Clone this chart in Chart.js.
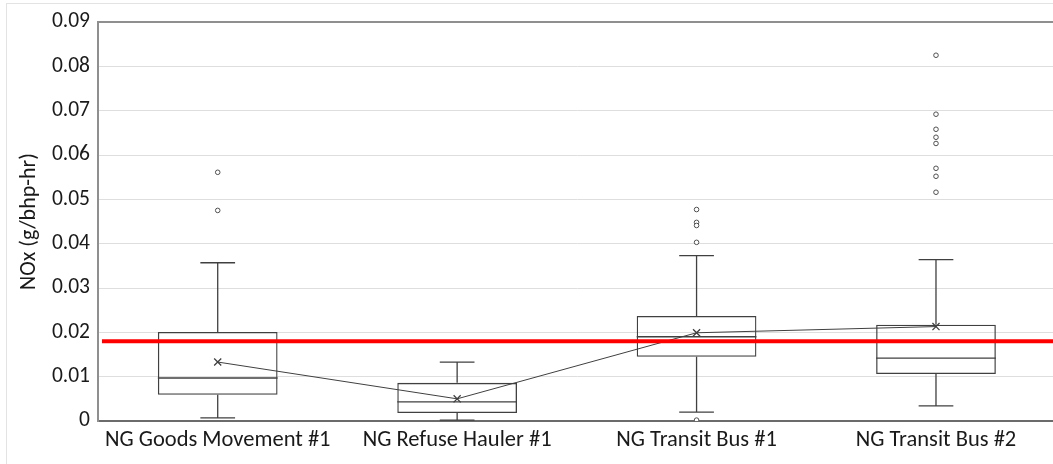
<!DOCTYPE html>
<html>
<head>
<meta charset="utf-8">
<script src="https://cdn.jsdelivr.net/npm/chart.js@4"></script>
<style>
html,body{margin:0;padding:0;background:#fff;overflow:hidden;}
#wrap{position:relative;width:1062px;height:464px;}
#frame{position:absolute;left:6px;top:3px;width:1100px;height:500px;border:1px solid #e3e3e3;box-sizing:border-box;pointer-events:none;}
</style>
</head>
<body>
<div id="wrap"><canvas id="c" width="1062" height="464"></canvas><div id="frame"></div></div>
<script>
const categories = ['NG Goods Movement #1','NG Refuse Hauler #1','NG Transit Bus #1','NG Transit Bus #2'];
const whiskerLow  = [0.0007, 0.0002, 0.0020, 0.0034];
const q1          = [0.0059, 0.0018, 0.0145, 0.0106];
const median      = [0.0097, 0.0043, 0.0190, 0.0142];
const q3          = [0.0201, 0.0086, 0.0237, 0.0217];
const whiskerHigh = [0.0357, 0.0133, 0.0373, 0.0364];
const mean        = [0.0133, 0.0050, 0.0199, 0.0213];
const outliers    = [
  [0.0561, 0.0475],
  [],
  [0.0477, 0.0448, 0.0441, 0.0403, 0.0002],
  [0.0825, 0.0692, 0.0658, 0.0640, 0.0626, 0.0570, 0.0552, 0.0516]
];
const threshold = 0.018;
const yTicks = [0, 0.01, 0.02, 0.03, 0.04, 0.05, 0.06, 0.07, 0.08, 0.09];

const FONT = 'Carlito, "Open Sans", sans-serif';
const INK = '#404040';

const outlierPoints = [];
outliers.forEach((arr, i) => arr.forEach(v => outlierPoints.push({x: categories[i], y: v})));

const boxPlugin = {
  id: 'boxParts',
  afterDatasetsDraw(chart) {
    const ctx = chart.ctx;
    const y = chart.scales.y;
    const meta = chart.getDatasetMeta(0);
    ctx.save();
    ctx.strokeStyle = INK;
    ctx.lineWidth = 1.3;
    meta.data.forEach((bar, i) => {
      const cx = bar.x;
      const half = bar.width / 2;
      const cap = bar.width * 0.145;
      const yQ1 = y.getPixelForValue(q1[i]);
      const yQ3 = y.getPixelForValue(q3[i]);
      const yLo = y.getPixelForValue(whiskerLow[i]);
      const yHi = y.getPixelForValue(whiskerHigh[i]);
      const yMed = y.getPixelForValue(median[i]);
      ctx.beginPath();
      ctx.moveTo(cx, yQ3); ctx.lineTo(cx, yHi);
      ctx.moveTo(cx - cap, yHi); ctx.lineTo(cx + cap, yHi);
      ctx.moveTo(cx, yQ1); ctx.lineTo(cx, yLo);
      ctx.moveTo(cx - cap, yLo); ctx.lineTo(cx + cap, yLo);
      ctx.moveTo(cx - half, yMed); ctx.lineTo(cx + half, yMed);
      ctx.stroke();
    });
    // threshold line
    const yt = y.getPixelForValue(threshold);
    ctx.strokeStyle = '#ff0000';
    ctx.lineWidth = 4;
    ctx.beginPath();
    ctx.moveTo(chart.chartArea.left + 4, yt);
    ctx.lineTo(chart.chartArea.right, yt);
    ctx.stroke();
    ctx.restore();
  }
};

new Chart(document.getElementById('c'), {
  type: 'bar',
  data: {
    labels: categories,
    datasets: [
      {
        type: 'bar',
        data: categories.map((_, i) => [q1[i], q3[i]]),
        backgroundColor: 'rgba(255,255,255,0)',
        borderColor: INK,
        borderWidth: 1.3,
        borderSkipped: false,
        categoryPercentage: 1,
        barPercentage: 0.5,
        order: 3
      },
      {
        type: 'line',
        data: mean,
        borderColor: INK,
        borderWidth: 1,
        pointStyle: 'crossRot',
        pointRadius: 5,
        pointBorderWidth: 1.3,
        pointBorderColor: INK,
        fill: false,
        tension: 0,
        order: 1
      },
      {
        type: 'line',
        data: outlierPoints,
        showLine: false,
        pointStyle: 'circle',
        pointRadius: 2.3,
        pointBorderWidth: 1,
        pointBorderColor: '#505050',
        pointBackgroundColor: '#ffffff',
        order: 2
      }
    ]
  },
  options: {
    responsive: false,
    animation: false,
    devicePixelRatio: 1,
    layout: { padding: { top: 22, left: 0, right: 0, bottom: 0 } },
    plugins: { legend: { display: false }, tooltip: { enabled: false } },
    scales: {
      x: {
        grid: { display: false, drawTicks: false },
        border: { display: true, color: '#6b6b6b', width: 2 },
        ticks: { color: '#1a1a1a', font: { family: FONT, size: 22.5 }, padding: 6, maxRotation: 0, autoSkip: false },
        afterFit(s) { s.height = 43; }
      },
      y: {
        min: 0, max: 0.09,
        afterBuildTicks(s) { s.ticks = yTicks.map(v => ({ value: v })); },
        grid: {
          drawTicks: false,
          color: ctx => (ctx.tick && Math.abs(ctx.tick.value - 0.09) < 1e-9) ? '#8f8f8f' : '#dedede',
          lineWidth: ctx => (ctx.tick && Math.abs(ctx.tick.value - 0.09) < 1e-9) ? 2 : 1
        },
        border: { display: true, color: '#8f8f8f', width: 2 },
        ticks: {
          color: '#1a1a1a', font: { family: FONT, size: 21.5 }, padding: 8,
          callback: v => (v === 0 ? '0' : v.toFixed(2))
        },
        title: {
          display: true, text: 'NOx (g/bhp-hr)', color: '#1a1a1a',
          font: { family: FONT, size: 22 }, padding: { top: 16, bottom: 0 }
        },
        afterFit(s) { s.width = 98; }
      }
    }
  },
  plugins: [boxPlugin]
});
</script>
</body>
</html>
